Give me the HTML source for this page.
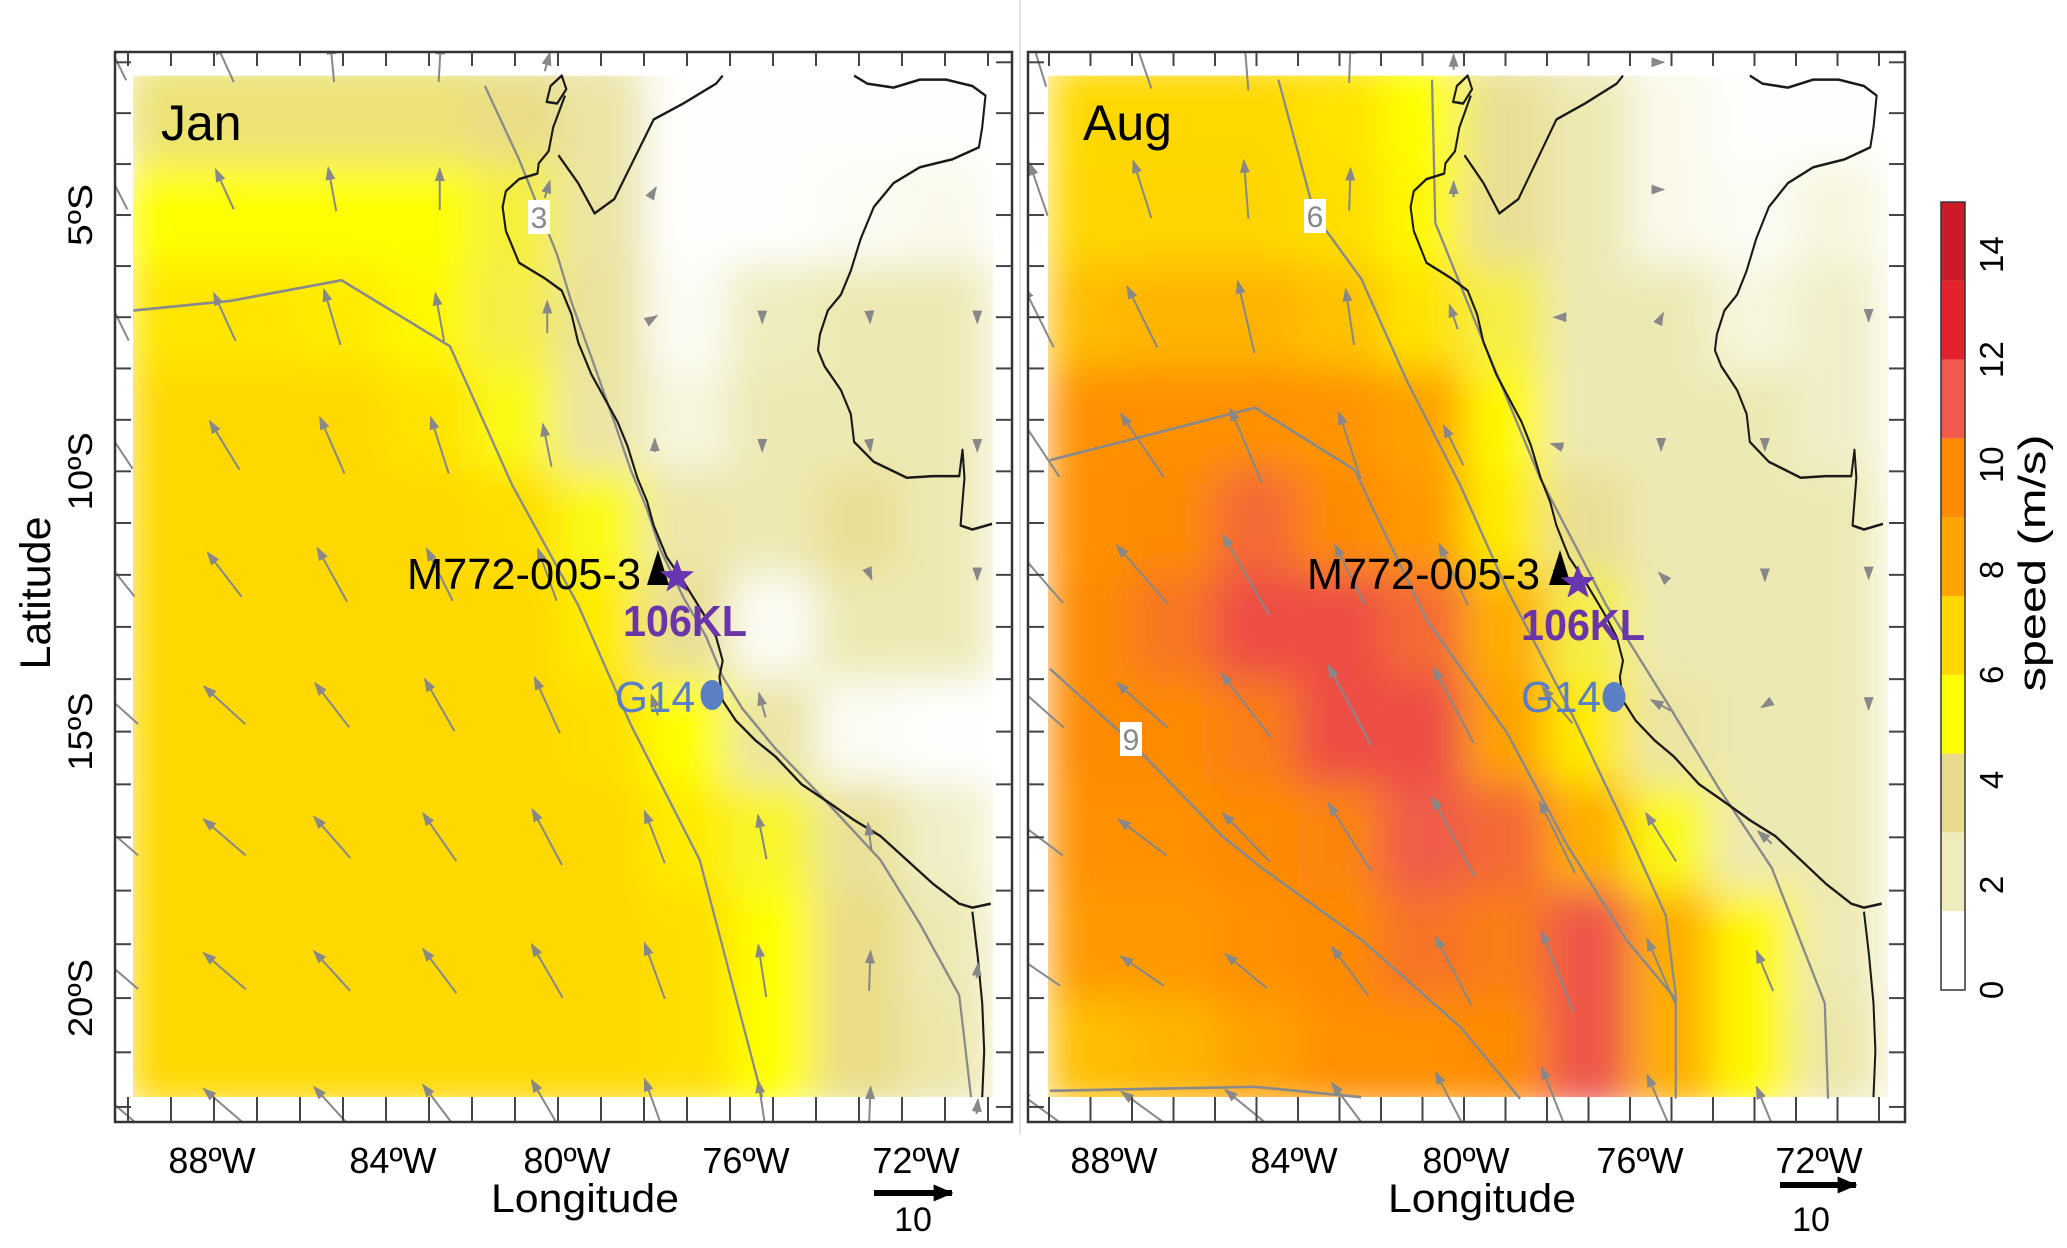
<!DOCTYPE html>
<html><head><meta charset="utf-8"><style>
html,body{margin:0;padding:0;background:#fff}
svg{display:block}
text{font-family:"Liberation Sans",Arial,sans-serif}
</style></head><body>
<svg id="s" xmlns="http://www.w3.org/2000/svg" width="2067" height="1248" viewBox="0 0 2067 1248">
<defs>
<filter id="blur" x="-5%" y="-5%" width="110%" height="110%"><feGaussianBlur stdDeviation="20" edgeMode="duplicate"/></filter>
<clipPath id="clip-jan-plot"><rect x="133" y="75.6" width="860" height="1021.4"/></clipPath>
<clipPath id="clip-aug-plot"><rect x="1048" y="75.6" width="840" height="1021.4"/></clipPath>
<clipPath id="clip-jan-frame"><rect x="115" y="52" width="897" height="1070"/></clipPath>
<clipPath id="clip-aug-frame"><rect x="1028" y="52" width="877" height="1070"/></clipPath>
<marker id="ah" viewBox="0 0 14 10" refX="12" refY="5" markerWidth="14" markerHeight="10" markerUnits="userSpaceOnUse" orient="auto"><path d="M0,0 L14,5 L0,10 z" fill="#888"/></marker>
<marker id="ahk" viewBox="0 0 14 12" refX="13" refY="6" markerWidth="20" markerHeight="17" markerUnits="userSpaceOnUse" orient="auto"><path d="M0,0 L14,6 L0,12 z" fill="#000"/></marker>
</defs>
<line x1="1020" y1="0" x2="1020" y2="1135" stroke="#e2e2e2" stroke-width="2"/>
<g id="root"></g>
</svg>
<script>
// ---- data: speed grids (rows lat -3..-21, cols lon -89..-71, 2° cells)
const speedLon = [-89,-87,-85,-83,-81,-79,-77,-75,-73,-71];
const speedLat = [-3,-5,-7,-9,-11,-13,-15,-17,-19,-21];
const janSpeed = [
 [4.0,4.0,4.0,4.0,3.8,3.0,0.8,0.8,0.8,0.8],
 [5.3,5.3,5.3,5.2,4.6,3.0,0.8,0.8,1.0,1.2],
 [6.2,6.2,6.0,5.5,4.5,3.2,1.0,2.2,2.5,2.5],
 [6.7,6.7,6.7,6.3,5.0,3.0,1.5,2.5,2.5,2.5],
 [6.7,6.7,6.7,6.7,6.5,5.0,2.8,2.5,3.5,2.5],
 [6.7,6.7,6.7,6.7,6.7,6.0,3.5,1.0,2.5,2.5],
 [6.7,6.7,6.7,6.7,6.7,6.5,5.3,3.0,1.0,0.8],
 [6.7,6.7,6.7,6.7,6.7,6.7,6.0,4.8,3.3,2.0],
 [6.7,6.7,6.7,6.7,6.7,6.7,6.5,5.3,3.8,2.5],
 [6.7,6.7,6.7,6.7,6.7,6.7,6.5,5.3,3.8,2.8]
];
const augSpeed = [
 [6.7,6.7,6.7,6.3,5.3,3.5,2.5,1.2,0.8,0.8],
 [6.8,6.8,6.8,6.5,5.5,3.5,2.5,1.2,1.0,1.5],
 [7.6,7.8,7.8,7.4,6.3,4.5,2.5,2.5,1.5,2.0],
 [9.5,9.5,9.5,9.3,8.5,5.5,2.5,2.5,2.5,2.0],
 [9.6,9.8,10.8,9.8,9.0,6.0,3.5,2.5,2.5,2.5],
 [9.8,10.4,11.6,11.6,10.8,8.0,4.5,2.5,2.5,2.5],
 [9.8,9.8,10.2,11.6,11.6,8.5,6.0,3.0,2.5,2.5],
 [9.5,9.5,9.8,10.0,11.2,10.8,8.0,5.0,2.6,2.5],
 [9.0,9.0,9.5,9.8,10.5,10.2,11.4,8.0,5.5,2.5],
 [7.5,7.8,8.5,9.5,9.5,9.8,11.4,8.0,5.5,2.8]
];
// ---- data: wind vectors (rows lat, cols lon), m/s
const windLon = [-90.25,-87.75,-85.25,-82.75,-80.25,-77.75,-75.25,-72.75,-70.25];
const windLat = [-2,-4.5,-7,-9.5,-12,-14.5,-17,-19.5,-22];
const janU = [
 [-2.5,-2.5,-0.5,0.3,0.7,0.2,0,0,0],
 [-2.8,-2.5,-1.1,0,0.7,0.3,0,0,0],
 [-3.2,-3,-2.3,-1.2,0,0.5,0,0.1,0],
 [-4.3,-4.1,-3.4,-2.5,-1.2,0,0,0.2,0],
 [-4.8,-4.7,-4.1,-3.6,-2.6,0,0.3,0.5,0],
 [-5.8,-5.7,-4.7,-4.1,-3.5,-0.9,-0.9,0,0],
 [-5.8,-5.8,-5,-4.6,-4.1,-2.8,-1.2,-0.5,0],
 [-5.8,-5.8,-5,-4.6,-4.3,-2.8,-1.1,0.2,0.2],
 [-5.8,-5.8,-5,-4.6,-4.3,-2.8,-1.1,0.2,0.2]
];
const janV = [
 [5,5.5,5.5,5.5,2.5,0.5,0.5,0,0],
 [5.5,5.5,6,5.7,2.3,0.5,0.5,0,0],
 [6.5,6.6,7.7,6.6,4.4,0.3,-1.5,-1.5,-1.5],
 [6.5,6.7,7.8,7.8,5.9,1.8,-1.5,-1.5,-1.5],
 [6,6.1,7.4,7.2,7.2,0,0,-1.2,-1.3],
 [5.2,5.2,6.1,7.2,7.7,2.8,3.3,0,0],
 [5,5,5.7,6.6,7.7,7.2,6.1,3.9,0.3],
 [5,5,5.5,6.1,7.4,7.7,7.2,5.5,2],
 [5,5,5.5,6.1,7.4,7.7,7.2,5.5,2]
];
const augU = [
 [-2,-2.4,-0.6,0.2,0,0.5,0.6,0,0],
 [-2.4,-2.4,-0.6,0.2,0,0.5,0.6,0,0],
 [-4,-4,-2.2,-1.1,-1.1,-0.8,0.5,0,0],
 [-5.5,-5.7,-4.2,-2.9,-2.6,-1.6,0,0,0],
 [-6.5,-6.8,-6.1,-4,-3.8,-1,-0.5,0,0],
 [-6.8,-6.8,-6.6,-5.7,-5.3,-4,-2.6,-0.8,0],
 [-6.4,-6.4,-6.2,-5.7,-5.7,-4.7,-4,-1.8,0],
 [-5.7,-5.7,-5.5,-4.8,-4.8,-4.2,-3.7,-2.2,0],
 [-5.5,-5.5,-5.5,-4.8,-4.8,-4.2,-3.7,-2.2,0]
];
const augV = [
 [6.5,7,7.5,5.5,2,0,0,0,0],
 [7,7.6,7.7,5.6,2,0,0,0,-0.5],
 [8,8.1,9.5,7.4,3.2,0,1,0,-1],
 [8.3,8.4,9.8,8.8,5.3,0.5,-1.2,-1.2,0],
 [7.5,7.8,10.6,8,8.1,1,0.5,-1.5,-1],
 [6,6,8.5,10.6,10,4.8,1.4,-0.5,-1],
 [4.8,4.8,6.4,9,10.6,9.5,6.4,1.6,0],
 [3.9,3.9,4.5,6.4,9.2,10.6,8.5,5.3,0],
 [4,4,4.5,6.4,9.2,10.6,8.5,5.3,0]
];
// ---- colorbar data
const cbBins = [0,1.5,3,4.5,6,7.5,9,10.5,12,13.5,15];
const cbColors = ['#ffffff','#eeecbc','#e8dc8c','#ffff00','#ffd700','#ffa500','#ff8c00','#ef5a4c','#e3222c','#cc1a26'];
const cbTicks = [0,2,4,6,8,10,12,14];
const latTicks = [-5,-10,-15,-20];
const latTickLabels = ['5ºS','10ºS','15ºS','20ºS'];
const lonTickLabels = ['88ºW','84ºW','80ºW','76ºW','72ºW'];

const NS='http://www.w3.org/2000/svg';
const root=document.getElementById('root');
function el(tag,attrs,parent,txt){const e=document.createElementNS(NS,tag);for(const k in attrs)e.setAttribute(k,attrs[k]);if(txt!==undefined)e.textContent=txt;(parent||root).appendChild(e);return e;}
function merc(lat){const p=lat*Math.PI/180;return Math.log(Math.tan(Math.PI/4+p/2));}
function yLat(lat){return 215+2911*(-merc(lat)-0.08737);}
function hex(c){return [1,3,5].map(i=>parseInt(c.substr(i,2),16));}
function color(v){
  const cs=cbBins.slice(0,-1).map((b,i)=>[b+0.75,hex(cbColors[i])]);
  if(v<=cs[0][0])return 'rgb('+cs[0][1]+')';
  for(let i=0;i<cs.length-1;i++){if(v<=cs[i+1][0]){const t=(v-cs[i][0])/(cs[i+1][0]-cs[i][0]);const a=cs[i][1],b=cs[i+1][1];return 'rgb('+a.map((x,j)=>Math.round(x+(b[j]-x)*t)).join(',')+')';}}
  return 'rgb('+cs[cs.length-1][1]+')';
}
const coastPath="M855 95 L862 112 L848 130 L832 128 L838 108 Z M860 120 L842 160 L835 190 L820 205 L818 218 L790 225 L770 240 L765 260 L770 290 L790 330 L830 350 L855 365 L870 395 L880 430 L900 470 L920 500 L940 530 L955 560 L970 600 L985 630 L995 660 L1005 680 L1015 700 L1040 730 L1070 770 L1090 800 L1100 830 L1095 850 L1100 880 L1120 905 L1150 930 L1180 950 L1220 985 L1265 1010 L1300 1030 L1340 1050 L1380 1080 L1420 1110 L1460 1135 L1480 1140 L1508 1135 M1480 1145 L1488 1200 L1495 1260 L1498 1320 L1495 1378 M850 195 L880 230 L905 268 L935 250 L965 200 L995 150 L1040 130 L1090 105 L1100 95 M1300 95 L1320 105 L1360 110 L1400 100 L1440 100 L1480 108 L1500 120 L1495 160 L1490 185 L1450 200 L1400 210 L1360 230 L1330 260 L1310 300 L1295 340 L1280 370 L1260 390 L1248 420 L1245 440 L1255 460 L1280 490 L1295 520 L1300 555 L1330 580 L1380 600 L1420 598 L1460 598 L1465 565 L1468 600 L1462 660 L1480 665 L1510 658";
const janContours="M738 108 L790 200 L848 320 L870 380 L905 460 L935 530 L960 590 L985 640 L1005 690 L1040 750 L1075 800 L1100 850 L1130 890 L1180 940 L1250 1000 L1340 1080 L1400 1160 L1460 1250 L1478 1378 M203 390 L350 378 L520 352 L685 435 L780 610 L880 760 L960 910 L1065 1080 L1160 1378";
const augContours="M375 100 L430 270 L500 350 L570 480 L650 610 L720 740 L820 900 L900 1040 L960 1150 L975 1250 L975 1380 M607 100 L612 280 L680 420 L770 600 L870 760 L960 880 L1040 990 L1120 1090 L1200 1260 L1205 1380 M30 578 L340 512 L490 590 L530 660 L600 780 L720 920 L810 1060 L900 1180 L975 1255 M30 840 L150 930 L290 1050 L350 1090 L500 1180 L650 1290 L740 1380 M30 1370 L340 1365 L500 1378";

const panels=[
 {name:'jan',title:'Jan',x88:214,ppd:43,frame:[115,52,1012,1122],speed:janSpeed,u:janU,v:janV,k:7.2,coastT:'matrix(0.657 0 0 0.7962 0 0)',contT:'matrix(0.657 0 0 0.7962 0 0)',cont:janContours,
  lonLab:[212,393,567,746,916],cl:{t:'3',x:539,y:217},titleX:161,mk:{lab:[407,589,234],tri:[658,550],star:[677,577],kl:[623,636],g:[615,712],dot:[712,695]},scale:[874,952,1193,913]},
 {name:'aug',title:'Aug',x88:1132,ppd:41.5,frame:[1028,52,1905,1122],speed:augSpeed,u:augU,v:augV,k:7.5,coastT:'matrix(0.6341 0 0 0.7962 925.5 0)',contT:'matrix(0.6623 0 0 0.7962 1030 0)',cont:augContours,
  lonLab:[1114,1294,1466,1640,1819],cl:{t:'6',x:1315,y:216},cl2:{t:'9',x:1131,y:739},titleX:1083,mk:{lab:[1307,589,233],tri:[1560,550],star:[1578,583],kl:[1521,640],g:[1521,712],dot:[1614,697]},scale:[1780,1856,1185,1811]}
];

panels.forEach(p=>{
  const xLon=lon=>p.x88+(lon+88)*p.ppd;
  const [fx0,fy0,fx1,fy1]=p.frame;
  const g=el('g',{});
  const hc=el('g',{'clip-path':'url(#clip-'+p.name+'-plot)'},g);
  
  
  const hb=el('g',{filter:'url(#blur)'},hc);
  p.speed.forEach((row,ri)=>row.forEach((val,ci)=>{
    const la=speedLat[ri],lo=speedLon[ci];
    const x0=xLon(lo-1),x1=xLon(lo+1),y0=yLat(la+1),y1=yLat(la-1);
    const r=el('rect',{x:x0-0.5,y:y0-0.5,width:x1-x0+1,height:y1-y0+1,fill:color(val)},hb);
    
    
  }));
  const ct=el('path',{d:p.cont,transform:p.contT,fill:'none',stroke:'#8a8a8a','stroke-width':'3.4'},g);
  
  
  const cp=el('path',{d:coastPath,transform:p.coastT,fill:'none',stroke:'#1a1a1a','stroke-width':'3.2','stroke-linejoin':'round'},g);
  
  
  const ag=el('g',{'clip-path':'url(#clip-'+p.name+'-frame)'},g);
  
  
  p.u.forEach((row,ri)=>row.forEach((uu,ci)=>{
    const vv=p.v[ri][ci];const dx=uu*p.k,dy=-vv*p.k;
    if(Math.hypot(dx,dy)<4)return;
    const cx=xLon(windLon[ci]),cy=yLat(windLat[ri]);
    const a=el('line',{x1:cx-dx/2,y1:cy-dy/2,x2:cx+dx/2,y2:cy+dy/2,stroke:'#888','stroke-width':'2','marker-end':'url(#ah)'},ag);
    
    
  }));
  [p.cl,p.cl2].forEach(c=>{if(!c)return;
    const b=el('rect',{x:c.x-11,y:c.y-17,width:22,height:34,fill:'#fff'},g);
    
    
    const t=el('text',{x:c.x,y:c.y+11,'font-size':'30','text-anchor':'middle',fill:'#888'},g,c.t);
    
    
  });
  const fr=el('rect',{x:fx0,y:fy0,width:fx1-fx0,height:fy1-fy0,fill:'none',stroke:'#333','stroke-width':'2.5'},g);
  
  
  const tg=el('g',{stroke:'#444','stroke-width':'2'},g);
  
  
  for(let lon=-90;lon<=-70;lon++){const x=xLon(lon);if(x<fx0+2||x>fx1-2)continue;
    el('line',{x1:x,y1:fy0,x2:x,y2:fy0+14},tg);el('line',{x1:x,y1:1097,x2:x,y2:fy1},tg);}
  for(let lat=-2;lat>=-22;lat--){const y=yLat(lat);if(y<fy0+2||y>fy1-2)continue;
    el('line',{x1:fx0,y1:y,x2:fx0+16,y2:y},tg);el('line',{x1:fx1-16,y1:y,x2:fx1,y2:y},tg);}
  lonTickLabels.forEach((s,i)=>{const t=el('text',{x:p.lonLab[i],y:1173,'font-size':'36','text-anchor':'middle',fill:'#000'},g,s);
    });
  const xl=el('text',{x:p.name==='jan'?585:1482,y:1212,'font-size':'40','text-anchor':'middle',fill:'#000',textLength:'188',lengthAdjust:'spacingAndGlyphs'},g,'Longitude');
  
  const tt=el('text',{x:p.titleX,y:140,'font-size':'50',fill:'#000'},g,p.title);
  
  const m=p.mk;
  const ml=el('text',{x:m.lab[0],y:m.lab[1],'font-size':'44',fill:'#000',textLength:m.lab[2],lengthAdjust:'spacingAndGlyphs'},g,'M772-005-3');
  
  const tri=el('path',{d:'M'+m.tri[0]+' '+m.tri[1]+' l11 35 l-22 0 z',fill:'#000'},g);
  
  let sp='';for(let i=0;i<10;i++){const r=i%2?7.5:18,a=-Math.PI/2+i*Math.PI/5;sp+=(i?'L':'M')+(m.star[0]+r*Math.cos(a)).toFixed(1)+' '+(m.star[1]+r*Math.sin(a)).toFixed(1);}
  const st=el('path',{d:sp+'Z',fill:'#6a35b0'},g);
  
  const kl=el('text',{x:m.kl[0],y:m.kl[1],'font-size':'44','font-weight':'bold',fill:'#6a35a8',textLength:'124',lengthAdjust:'spacingAndGlyphs'},g,'106KL');
  
  const gl=el('text',{x:m.g[0],y:m.g[1],'font-size':'44',fill:'#5a7fc4',textLength:'80',lengthAdjust:'spacingAndGlyphs'},g,'G14');
  
  const dot=el('ellipse',{cx:m.dot[0],cy:m.dot[1],rx:11.5,ry:15,fill:'#5a7fc4'},g);
  
  const sa=el('line',{x1:p.scale[0],y1:p.scale[2],x2:p.scale[1],y2:p.scale[2],stroke:'#000','stroke-width':'6','marker-end':'url(#ahk)'},g);
  
  const s10=el('text',{x:p.scale[3],y:1231,'font-size':'34','text-anchor':'middle',fill:'#000'},g,'10');
  
});
latTicks.forEach((lat,i)=>{const y=yLat(lat);
  const t=el('text',{x:0,y:0,transform:'translate(92,'+y.toFixed(1)+') rotate(-90)','font-size':'34','text-anchor':'middle',fill:'#000',textLength:i?78:62,lengthAdjust:'spacingAndGlyphs'},root,latTickLabels[i]);
  });
const yt=el('text',{x:0,y:0,transform:'translate(50,593) rotate(-90)','font-size':'43','text-anchor':'middle',fill:'#000'},root,'Latitude');

const cbg=el('g',{});

const cbY=v=>990-v*52.53;
cbColors.forEach((c,i)=>{const r=el('rect',{x:1941,y:cbY(cbBins[i+1]),width:24,height:cbY(cbBins[i])-cbY(cbBins[i+1]),fill:c},cbg);
  });
const cbf=el('rect',{x:1941,y:cbY(15),width:24,height:cbY(0)-cbY(15),fill:'none',stroke:'#333','stroke-width':'1.5'},cbg);

cbTicks.forEach(v=>{const t=el('text',{x:0,y:0,transform:'translate(2003,'+cbY(v).toFixed(1)+') rotate(-90)','font-size':'33','text-anchor':'middle',fill:'#000'},cbg,String(v));
  });
const ct2=el('text',{x:0,y:0,transform:'translate(2045,563) rotate(-90)','font-size':'38','text-anchor':'middle',fill:'#000',textLength:'257',lengthAdjust:'spacingAndGlyphs'},cbg,'speed (m/s)');

</script>
</body></html>
